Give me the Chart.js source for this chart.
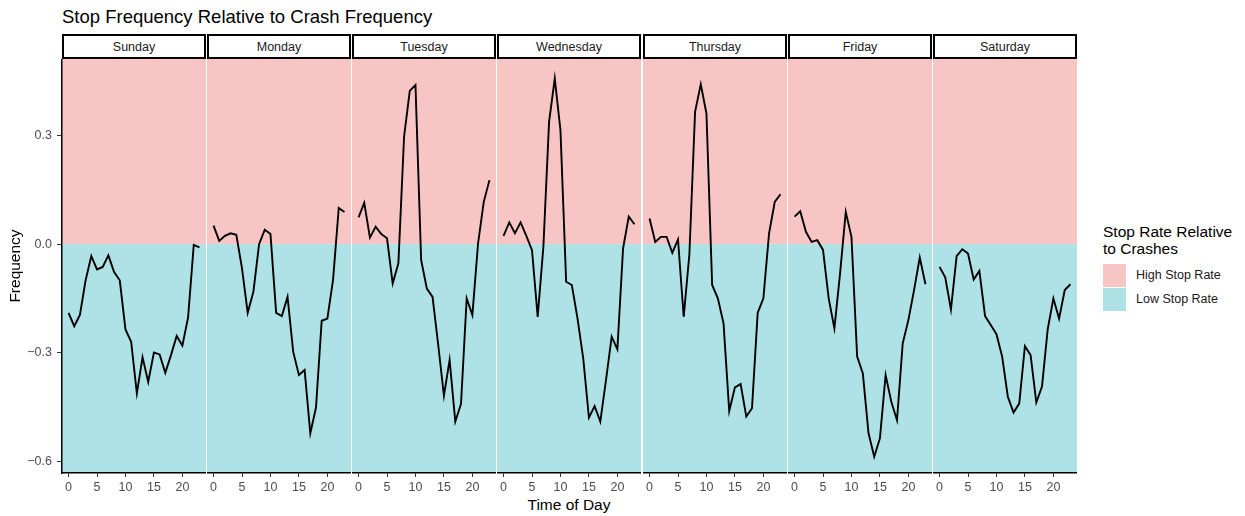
<!DOCTYPE html>
<html>
<head>
<meta charset="utf-8">
<script src="https://cdn.jsdelivr.net/npm/chart.js@4/dist/chart.umd.min.js"></script>
<style>
  html, body { margin:0; padding:0; background:#fff; }
  body { width:1245px; height:516px; position:relative; overflow:hidden; font-family:"Liberation Sans", Arial, Helvetica, sans-serif; }
  .txt { position:absolute; white-space:nowrap; }
  .strip { position:absolute; top:34px; height:25px; box-sizing:border-box; border:2px solid #000; background:#fff;
           font-size:12.5px; color:#1a1a1a; display:flex; align-items:center; justify-content:center; }
  canvas { position:absolute; top:59px; }
  .key { position:absolute; left:1103px; width:23px; height:23px; }
</style>
</head>
<body>
<div class="txt" style="left:62px; top:6px; font-size:18.5px; line-height:22px; color:#000;">Stop Frequency Relative to Crash Frequency</div>
<div class="txt" style="left:469px; width:200px; text-align:center; top:496px; font-size:15.5px; line-height:18px; color:#000;">Time of Day</div>

<div class="txt" style="left:1103px; top:223px; font-size:15.5px; line-height:17px; color:#000;">Stop Rate Relative<br>to Crashes</div>
<div class="key" id="keyHigh" style="top:264px;"></div>
<div class="key" id="keyLow" style="top:288px;"></div>
<div class="txt" id="lab0" style="left:1136px; top:268px; font-size:12.5px; line-height:15px; color:#1a1a1a;"></div>
<div class="txt" id="lab1" style="left:1136px; top:292px; font-size:12.5px; line-height:15px; color:#1a1a1a;"></div>

<script>
// ---------- data ----------
const days = ["Sunday","Monday","Tuesday","Wednesday","Thursday","Friday","Saturday"];
const hours = [0,1,2,3,4,5,6,7,8,9,10,11,12,13,14,15,16,17,18,19,20,21,22,23];
const xTicks = [0,5,10,15,20];
const yTicks = [-0.6,-0.3,0.0,0.3];
const legendLabels = ["High Stop Rate","Low Stop Rate"];

const sunday    = [-0.190,-0.227,-0.196,-0.100,-0.033,-0.070,-0.063,-0.031,-0.077,-0.100,-0.236,-0.270,-0.413,-0.313,-0.381,-0.300,-0.305,-0.356,-0.307,-0.254,-0.281,-0.203,-0.002,-0.009];
const monday    = [0.051,0.009,0.023,0.030,0.026,-0.067,-0.190,-0.132,0.000,0.040,0.028,-0.190,-0.199,-0.146,-0.298,-0.362,-0.348,-0.523,-0.452,-0.212,-0.206,-0.098,0.100,0.089];
const tuesday   = [0.074,0.114,0.018,0.048,0.028,0.016,-0.109,-0.053,0.297,0.424,0.440,-0.044,-0.123,-0.146,-0.279,-0.419,-0.321,-0.491,-0.442,-0.150,-0.196,0.002,0.117,0.177];
const wednesday = [0.023,0.060,0.030,0.060,0.023,-0.017,-0.201,-0.007,0.338,0.458,0.315,-0.104,-0.113,-0.206,-0.316,-0.480,-0.448,-0.491,-0.376,-0.256,-0.291,-0.012,0.076,0.055];
const thursday  = [0.071,0.006,0.020,0.020,-0.024,0.013,-0.201,-0.028,0.366,0.442,0.361,-0.113,-0.150,-0.219,-0.462,-0.396,-0.387,-0.477,-0.454,-0.190,-0.150,0.030,0.117,0.138];
const friday    = [0.076,0.091,0.034,0.006,0.011,-0.016,-0.150,-0.233,-0.081,0.089,0.020,-0.311,-0.358,-0.523,-0.588,-0.537,-0.362,-0.436,-0.487,-0.275,-0.210,-0.127,-0.037,-0.111];
const saturday  = [-0.063,-0.092,-0.181,-0.033,-0.014,-0.026,-0.098,-0.074,-0.199,-0.224,-0.249,-0.311,-0.422,-0.466,-0.441,-0.282,-0.307,-0.438,-0.394,-0.236,-0.150,-0.206,-0.127,-0.111];
const seriesByDay = [sunday, monday, tuesday, wednesday, thursday, friday, saturday];

// ---------- styles ----------
const PINK = "#F7C5C3";
const CYAN = "#AFE2E6";
const FONT = '"Liberation Sans", Arial, Helvetica, sans-serif';
document.getElementById("keyHigh").style.background = PINK;
document.getElementById("keyLow").style.background = CYAN;
document.getElementById("lab0").textContent = legendLabels[0];
document.getElementById("lab1").textContent = legendLabels[1];

const panelLefts = [62, 207, 352, 497, 643, 788, 933];
const panelWidth = 144;
const canvasHeight = 457;   // 59 -> 516
const plotHeight = 414;     // 59 -> 473

const bgPlugin = {
  id: "bgBands",
  beforeDraw(chart) {
    const { ctx, chartArea: a, scales } = chart;
    const y0 = scales.y.getPixelForValue(0);
    ctx.save();
    ctx.fillStyle = PINK;
    ctx.fillRect(a.left, a.top, a.right - a.left, y0 - a.top);
    ctx.fillStyle = CYAN;
    ctx.fillRect(a.left, y0, a.right - a.left, a.bottom - y0);
    ctx.restore();
  }
};

function fmtY(v) {
  const s = Math.abs(v).toFixed(1);
  return v < -1e-9 ? "\u2212" + s : s;
}

days.forEach((day, i) => {
  const first = i === 0;
  const strip = document.createElement("div");
  strip.className = "strip";
  strip.style.left = panelLefts[i] + "px";
  strip.style.width = panelWidth + "px";
  strip.textContent = day;
  document.body.appendChild(strip);

  const cv = document.createElement("canvas");
  const left = first ? 0 : panelLefts[i];
  const width = first ? panelLefts[i] + panelWidth : panelWidth;
  cv.width = width; cv.height = canvasHeight;
  cv.style.left = left + "px";
  cv.style.width = width + "px"; cv.style.height = canvasHeight + "px";
  document.body.appendChild(cv);

  new Chart(cv, {
    type: "line",
    data: {
      datasets: [{
        label: day,
        data: hours.map((h, k) => ({ x: h, y: seriesByDay[i][k] })),
        borderColor: "#000",
        borderWidth: 1.9,
        pointRadius: 0,
        tension: 0,
        fill: false
      }]
    },
    options: {
      responsive: false,
      animation: false,
      devicePixelRatio: 1,
      layout: { padding: 0 },
      plugins: { legend: { display: false }, tooltip: { enabled: false }, title: { display: false } },
      scales: {
        x: {
          type: "linear",
          min: -1.15, max: 24.15,
          afterBuildTicks: s => { s.ticks = xTicks.map(v => ({ value: v })); },
          ticks: { color: "#4d4d4d", font: { family: FONT, size: 12.5 }, padding: 3, maxRotation: 0, autoSkip: false,
                   callback: v => String(v) },
          grid: { drawOnChartArea: false, tickLength: 4, color: "#333", lineWidth: 1 },
          border: { display: true, color: "#000", width: 1.5 },
          afterFit: s => { s.height = canvasHeight - plotHeight; s.paddingLeft = 0; s.paddingRight = 0; s.paddingTop = 0; s.paddingBottom = 0; }
        },
        y: {
          type: "linear",
          display: first,
          min: -0.633, max: 0.512,
          afterBuildTicks: s => { s.ticks = yTicks.map(v => ({ value: v })); },
          ticks: { color: "#4d4d4d", font: { family: FONT, size: 12.5 }, padding: 5, callback: v => fmtY(v) },
          grid: { drawOnChartArea: false, tickLength: 5, color: "#333", lineWidth: 1 },
          border: { display: true, color: "#000", width: 1.5 },
          title: { display: true, text: "Frequency", color: "#000", font: { family: FONT, size: 15.5 }, padding: { top: 6, bottom: 0 } },
          afterFit: s => { s.width = first ? panelLefts[0] : 0; s.paddingTop = 0; s.paddingBottom = 0; s.paddingLeft = 0; s.paddingRight = 0; }
        }
      }
    },
    plugins: [bgPlugin]
  });
});
</script>
</body>
</html>
